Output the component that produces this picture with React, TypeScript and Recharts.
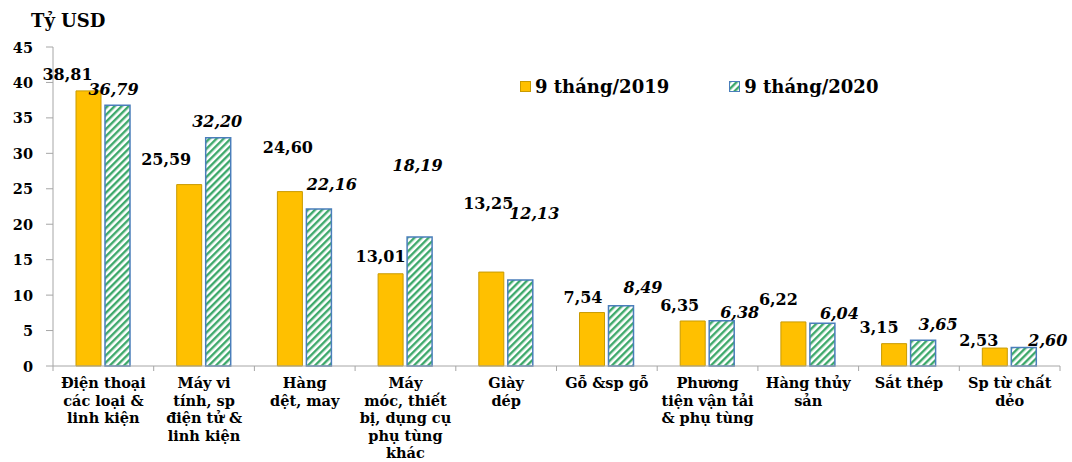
import React from 'react';
import { BarChart, Bar, XAxis, YAxis, Legend, LabelList } from 'recharts';

const categories = [
  'Điện thoại\ncác loại &\nlinh kiện',
  'Máy vi\ntính, sp\nđiện tử &\nlinh kiện',
  'Hàng\ndệt, may',
  'Máy\nmóc, thiết\nbị, dụng cụ\nphụ tùng\nkhác',
  'Giày\ndép',
  'Gỗ &sp gỗ',
  'Phương\ntiện vận tải\n& phụ tùng',
  'Hàng thủy\nsản',
  'Sắt thép',
  'Sp từ chất\ndẻo',
];

const values2019 = [38.81, 25.59, 24.6, 13.01, 13.25, 7.54, 6.35, 6.22, 3.15, 2.53];
const values2020 = [36.79, 32.2, 22.16, 18.19, 12.13, 8.49, 6.38, 6.04, 3.65, 2.6];

const yTicks = [0, 5, 10, 15, 20, 25, 30, 35, 40, 45];

const seriesNames = ['9 tháng/2019', '9 tháng/2020'];
const unitLabel = 'Tỷ USD';

// hand-placed label nudges (dx from bar centre, dy from bar top), like the original
const nudge2019 = [[-21, -16], [-23, -25], [-2, -44], [-10, -17], [-3, -69], [-9, -15], [-13, -15], [-15, -22], [-15, -16], [-16, -8]];
const nudge2020 = [[-4, -16], [-1, -16], [13, -24], [-2, -72], [14, -67], [22, -18], [18, -8], [17, -10], [15, -16], [24, -7]];

const data = categories.map((name, i) => ({ name, v2019: values2019[i], v2020: values2020[i] }));

const FONT = '"DejaVu Serif", "Liberation Serif", serif';
const W = 1072;
const H = 462;
const M = { top: 47, right: 12, bottom: 0, left: 0 };
const AXIS_W = 53;
const AXIS_H = 96;
const PLOT_BOTTOM = H - AXIS_H;
const BAND = (W - AXIS_W - M.right) / categories.length;
const AXIS_COLOR = '#a6a6a6';

const fmt = (v: number) => v.toFixed(2).replace('.', ',');

const XTick = (props: any) => {
  const { x, payload, index } = props;
  const lines = String(payload.value).split('\n');
  return (
    <g>
      <line x1={x - BAND / 2} x2={x - BAND / 2} y1={PLOT_BOTTOM} y2={PLOT_BOTTOM + 5} stroke={AXIS_COLOR} />
      {index === categories.length - 1 && (
        <line x1={x + BAND / 2} x2={x + BAND / 2} y1={PLOT_BOTTOM} y2={PLOT_BOTTOM + 5} stroke={AXIS_COLOR} />
      )}
      <text x={x} y={PLOT_BOTTOM + 22} textAnchor="middle" fontFamily={FONT} fontWeight="bold" fontSize={14.5} fill="#000">
        {lines.map((l, i) => (
          <tspan key={i} x={x} dy={i === 0 ? 0 : 17.5}>{l}</tspan>
        ))}
      </text>
    </g>
  );
};

const YTick = (props: any) => {
  const { x, y, payload } = props;
  return (
    <text x={x} y={y} textAnchor="end" dominantBaseline="central" fontFamily={FONT} fontWeight="bold" fontSize={14.5} fill="#000">
      {payload.value}
    </text>
  );
};

const makeLabel = (nudge: number[][], italic: boolean) => (props: any) => {
  const { x, y, width, value, index } = props;
  const [dx, dy] = nudge[index] || [0, -12];
  return (
    <text
      x={x + width / 2 + dx}
      y={y + dy}
      textAnchor="middle"
      dominantBaseline="central"
      fontFamily={FONT}
      fontWeight="bold"
      fontStyle={italic ? 'italic' : 'normal'}
      fontSize={16}
      fill="#000"
    >
      {fmt(value)}
    </text>
  );
};

const LegendBox = () => (
  <div style={{ display: 'flex', alignItems: 'center', fontFamily: FONT, fontWeight: 'bold', fontSize: 18, color: '#000' }}>
    <svg width={11} height={11} style={{ marginRight: 4 }}>
      <rect x={0.5} y={0.5} width={10} height={10} fill="#ffc000" stroke="#c99a00" />
    </svg>
    <span>{seriesNames[0]}</span>
    <svg width={11} height={11} style={{ marginLeft: 60, marginRight: 4 }}>
      <rect x={0.5} y={0.5} width={10} height={10} fill="url(#stripes)" stroke="#4a7ebb" />
    </svg>
    <span>{seriesNames[1]}</span>
  </div>
);

export default function App() {
  return (
    <div style={{ position: 'absolute', left: 0, top: 0, width: W, height: H, background: '#fff' }}>
      <div style={{ position: 'absolute', left: 31, top: 10, fontFamily: FONT, fontWeight: 'bold', fontSize: 18, color: '#000', zIndex: 2 }}>
        {unitLabel}
      </div>
      <BarChart width={W} height={H} data={data} margin={M} barSize={25} barGap={4}>
        <defs>
          <pattern id="stripes" patternUnits="userSpaceOnUse" width={5} height={5} patternTransform="rotate(45)">
            <rect width={5} height={5} fill="#ffffff" />
            <rect width={2.4} height={5} fill="#3ea96b" />
          </pattern>
        </defs>
        <XAxis
          dataKey="name"
          height={AXIS_H}
          interval={0}
          tickLine={false}
          axisLine={{ stroke: AXIS_COLOR }}
          tick={<XTick />}
        />
        <YAxis
          width={AXIS_W}
          domain={[0, 45]}
          ticks={yTicks}
          tickSize={7}
          tickMargin={13}
          tickLine={{ stroke: AXIS_COLOR }}
          axisLine={{ stroke: AXIS_COLOR }}
          tick={<YTick />}
        />
        <Legend
          layout="horizontal"
          verticalAlign="middle"
          align="center"
          content={<LegendBox />}
          wrapperStyle={{ position: 'absolute', left: 520, top: 76, width: 400, height: 24 }}
        />
        <Bar dataKey="v2019" name={seriesNames[0]} fill="#ffc000" stroke="#c99a00" strokeWidth={1} isAnimationActive={false}>
          <LabelList dataKey="v2019" content={makeLabel(nudge2019, false)} />
        </Bar>
        <Bar dataKey="v2020" name={seriesNames[1]} fill="url(#stripes)" stroke="#4a7ebb" strokeWidth={1.5} isAnimationActive={false}>
          <LabelList dataKey="v2020" content={makeLabel(nudge2020, true)} />
        </Bar>
      </BarChart>
    </div>
  );
}
